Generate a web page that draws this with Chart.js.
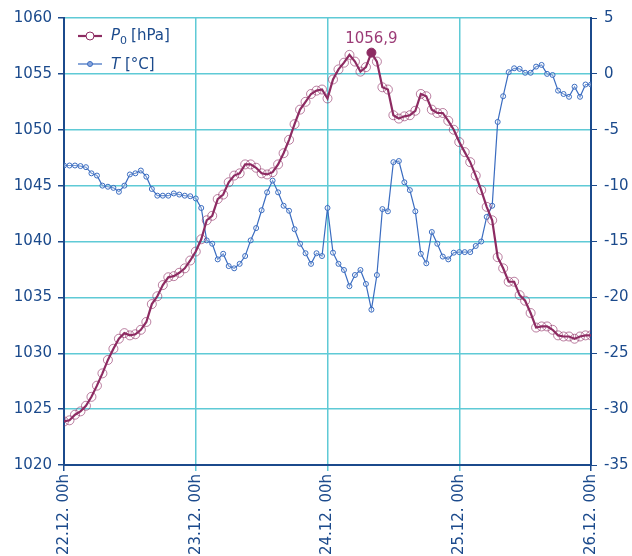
<!DOCTYPE html>
<html>
<head>
<meta charset="utf-8">
<script src="https://cdn.jsdelivr.net/npm/chart.js@4/dist/chart.umd.min.js"></script>
<style>
  body { margin: 0; background: #fff; }
  #wrap { position: relative; width: 632px; height: 556px; overflow: hidden; }
  #legend { position: absolute; left: 78px; top: 22px; font-family: 'DejaVu Sans', sans-serif; font-size: 15px; color: #1b4a8c; }
  .lg-row { display: flex; align-items: center; height: 28px; }
  .lg-row svg { margin-right: 9px; }
  .lg-row sub { font-size: 11px; vertical-align: -4px; margin-right: 4px; }
</style>
</head>
<body>
<div id="wrap">
  <canvas id="c" width="632" height="556"></canvas>
  <div id="legend">
    <div class="lg-row">
      <svg width="24" height="12"><line x1="0" y1="6" x2="24" y2="6" stroke="#8d2b62" stroke-width="2.2"/><circle cx="12" cy="6" r="4" fill="#fff" stroke="#8d2b62" stroke-width="1"/></svg>
      <span><i>P</i><sub>0</sub>[hPa]</span>
    </div>
    <div class="lg-row">
      <svg width="24" height="12"><line x1="0" y1="6" x2="24" y2="6" stroke="#3a6cc0" stroke-width="1.2"/><circle cx="12" cy="6" r="2.5" fill="#8aa6dc" stroke="#3a6cc0" stroke-width="1"/></svg>
      <span><i>T</i> [°C]</span>
    </div>
  </div>
</div>
<script>
// hourly readings, 22.12. 00h .. 26.12. 00h
var pressure = [
  1023.9, 1024.0, 1024.5, 1024.8, 1025.3, 1026.1, 1027.1, 1028.2, 1029.4, 1030.4, 1031.3, 1031.8,
  1031.6, 1031.7, 1032.1, 1032.8, 1034.4, 1035.1, 1036.1, 1036.8, 1036.9, 1037.2, 1037.6, 1038.3,
  1039.1, 1040.2, 1041.9, 1042.3, 1043.8, 1044.2, 1045.3, 1045.9, 1046.1, 1046.9, 1046.9, 1046.6,
  1046.1, 1046.0, 1046.2, 1046.9, 1047.9, 1049.1, 1050.5, 1051.8, 1052.5, 1053.2, 1053.5, 1053.6,
  1052.8, 1054.5, 1055.4, 1056.0, 1056.7, 1056.1, 1055.2, 1055.6, 1056.9, 1056.1, 1053.8, 1053.6,
  1051.3, 1051.0, 1051.2, 1051.3, 1051.7, 1053.2, 1053.0, 1051.8, 1051.5, 1051.5, 1050.8, 1050.0,
  1048.9, 1048.0, 1047.1, 1045.9, 1044.6, 1043.1, 1041.9, 1038.6, 1037.6, 1036.4, 1036.4, 1035.2,
  1034.7, 1033.6, 1032.3, 1032.4, 1032.4, 1032.1, 1031.6, 1031.5, 1031.5, 1031.3, 1031.5, 1031.6,
  1031.6
];
var temperature = [
  -8.2, -8.2, -8.2, -8.25, -8.35, -8.9, -9.1, -10.0, -10.1, -10.2, -10.55, -10.0,
  -9.0, -8.9, -8.65, -9.2, -10.3, -10.9, -10.9, -10.9, -10.7, -10.8, -10.9, -10.95,
  -11.15, -12.0, -14.9, -15.2, -16.6, -16.1, -17.2, -17.4, -17.0, -16.3, -14.9, -13.8,
  -12.2, -10.6, -9.55, -10.6, -11.8, -12.25, -13.9, -15.2, -16.05, -17.0, -16.05, -16.3,
  -12.0, -16.0, -17.0, -17.55, -19.0, -18.0, -17.55, -18.8, -21.1, -18.0, -12.1, -12.3,
  -7.9, -7.8, -9.7, -10.4, -12.3, -16.1, -16.95, -14.15, -15.2, -16.35, -16.6, -16.0,
  -15.95, -15.95, -15.95, -15.4, -15.0, -12.8, -11.8, -4.3, -2.0, 0.15, 0.5, 0.45,
  0.1, 0.1, 0.65, 0.8, 0.0, -0.1, -1.5, -1.8, -2.05, -1.15, -2.05, -0.95,
  -0.95
];
var dayLabels = ['22.12. 00h', '23.12. 00h', '24.12. 00h', '25.12. 00h', '26.12. 00h'];

var DARK = '#1b4a8c', CYAN = '#5fcad6', PCOL = '#8d2b62', TCOL = '#3a6cc0';
var FONT = { family: "'DejaVu Sans', sans-serif", size: 15 };

var maxIdx = pressure.indexOf(Math.max.apply(null, pressure));

var peakLabel = {
  id: 'peakLabel',
  afterDatasetsDraw: function (chart) {
    var pt = chart.getDatasetMeta(0).data[maxIdx];
    var ctx = chart.ctx;
    ctx.save();
    ctx.font = "15px 'DejaVu Sans', sans-serif";
    ctx.fillStyle = '#9b3b76';
    ctx.textAlign = 'center';
    ctx.textBaseline = 'bottom';
    ctx.fillText(pressure[maxIdx].toFixed(1).replace('.', ','), pt.x, pt.y - 6);
    ctx.restore();
  }
};

function plain(v) { return String(v); }

new Chart(document.getElementById('c'), {
  type: 'line',
  data: {
    datasets: [
      {
        label: 'P0 [hPa]',
        data: pressure.map(function (v, i) { return { x: i, y: v }; }),
        yAxisID: 'y',
        borderColor: PCOL, borderWidth: 2.2,
        pointRadius: 4.5, pointBorderWidth: 1,
        pointBorderColor: function (c) { return c.dataIndex === maxIdx ? PCOL : 'rgba(141,43,98,0.6)'; },
        pointBackgroundColor: function (c) { return c.dataIndex === maxIdx ? PCOL : 'rgba(255,255,255,0)'; },
        tension: 0
      },
      {
        label: 'T [°C]',
        data: temperature.map(function (v, i) { return { x: i, y: v }; }),
        yAxisID: 'y2',
        borderColor: TCOL, borderWidth: 1.2,
        pointRadius: 2.5, pointBorderWidth: 1,
        pointBorderColor: TCOL, pointBackgroundColor: 'rgba(255,255,255,0.3)',
        tension: 0
      }
    ]
  },
  options: {
    responsive: false, animation: false, devicePixelRatio: 1,
    layout: { padding: { top: 18 } },
    plugins: { legend: { display: false }, tooltip: { enabled: false } },
    scales: {
      x: {
        type: 'linear', min: 0, max: 96,
        afterFit: function (s) { s.height = 91; },
        ticks: {
          stepSize: 24, color: DARK, font: FONT, padding: 3,
          minRotation: 90, maxRotation: 90,
          callback: function (v) { return dayLabels[v / 24]; }
        },
        grid: {
          color: function () { return CYAN; }, lineWidth: 1.5, tickLength: 6,
          tickColor: function (c) { return (c.index === 0 || c.index === 4) ? DARK : CYAN; }
        },
        border: { color: DARK, width: 2 }
      },
      y: {
        position: 'left', min: 1020, max: 1060,
        afterFit: function (s) { s.width = 64; },
        ticks: { stepSize: 5, color: DARK, font: FONT, padding: 6, callback: plain },
        grid: { color: function () { return CYAN; }, lineWidth: 1.5, tickLength: 6, tickColor: DARK },
        border: { color: DARK, width: 2 }
      },
      y2: {
        position: 'right', min: -35, max: 5,
        afterFit: function (s) { s.width = 41; },
        ticks: { stepSize: 5, color: DARK, font: FONT, padding: 7, callback: plain },
        grid: { drawOnChartArea: false, tickLength: 6, tickColor: DARK },
        border: { color: DARK, width: 2 }
      }
    }
  },
  plugins: [peakLabel]
});
</script>
</body>
</html>
